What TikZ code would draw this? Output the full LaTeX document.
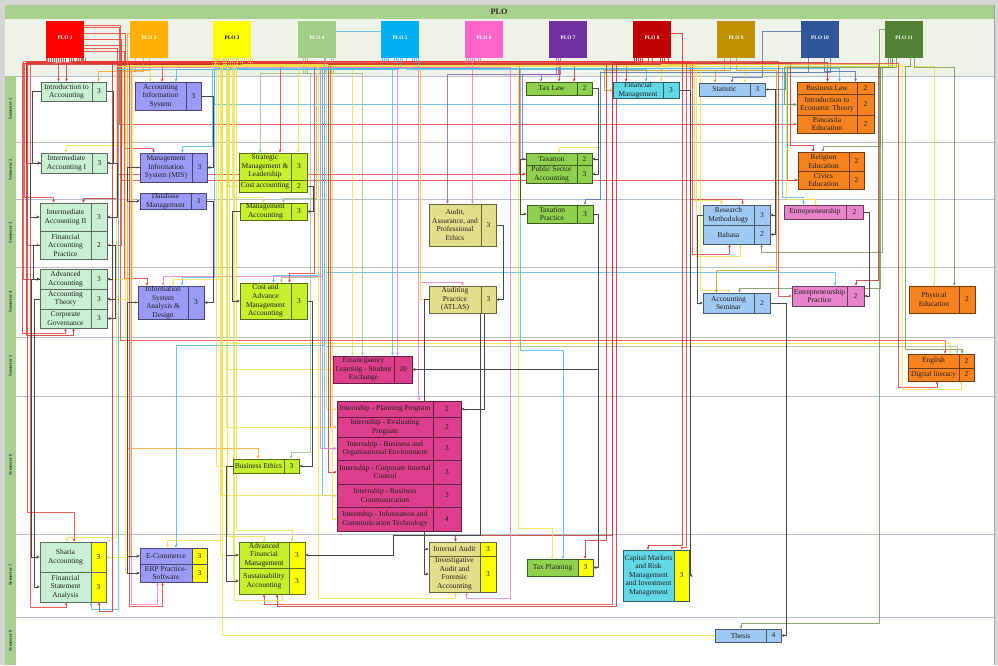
\documentclass[tikz,border=0pt]{standalone}
\usepackage{fontspec}
\setmainfont{Liberation Serif}
\usetikzlibrary{arrows.meta,calc,fit}
\pgfdeclarelayer{back}
\pgfdeclarelayer{mid}
\pgfsetlayers{back,mid,main}

\definecolor{hdr}{HTML}{A9D18E}
\definecolor{zone}{HTML}{EEF2E8}
\definecolor{frame}{HTML}{D6D6D6}
\definecolor{lane}{HTML}{B2C0CE}
\definecolor{q1}{HTML}{FF0000}
\definecolor{q2}{HTML}{FFB000}
\definecolor{q3}{HTML}{FFFF00}
\definecolor{q4}{HTML}{A3CC88}
\definecolor{q5}{HTML}{00B0F0}
\definecolor{q6}{HTML}{FF66CC}
\definecolor{q7}{HTML}{7030A0}
\definecolor{q8}{HTML}{C00000}
\definecolor{q9}{HTML}{BF9000}
\definecolor{q10}{HTML}{2F5597}
\definecolor{q11}{HTML}{548235}
\definecolor{ln1}{HTML}{E53935}
\definecolor{ln2}{HTML}{F5A623}
\definecolor{ln3}{HTML}{EEE04A}
\definecolor{ln4}{HTML}{9CC27E}
\definecolor{ln5}{HTML}{4DB8E8}
\definecolor{ln6}{HTML}{F27BC9}
\definecolor{ln7}{HTML}{8E5BB8}
\definecolor{ln8}{HTML}{C62828}
\definecolor{ln9}{HTML}{C29A2E}
\definecolor{ln10}{HTML}{4A6FA8}
\definecolor{ln11}{HTML}{6E9250}
\definecolor{cmint}{HTML}{C9F0D3}
\definecolor{cperi}{HTML}{9B9BF7}
\definecolor{clime}{HTML}{C4F02E}
\definecolor{ckhaki}{HTML}{E2DF8A}
\definecolor{cgreen}{HTML}{8FD14F}
\definecolor{ccyan}{HTML}{62D8E6}
\definecolor{cblue}{HTML}{9FC8F2}
\definecolor{corange}{HTML}{F68220}
\definecolor{cpink}{HTML}{E884CC}
\definecolor{cmag}{HTML}{DD3F8C}
\definecolor{cyel}{HTML}{FFFF00}

\tikzset{
  ctext/.style={font=\fontsize{5.6}{6.4}\selectfont, align=center, inner sep=0pt, text=black!88},
  lk/.style={line width=0.5pt, opacity=0.8, -{Stealth[length=2.4pt,width=2.2pt]}},
  gk/.style={line width=0.5pt, draw=black!72, -{Stealth[length=2.4pt,width=2.2pt]}},
  k1/.style={draw=ln1}, k2/.style={draw=ln2}, k3/.style={draw=ln3}, k4/.style={draw=ln4},
  k5/.style={draw=ln5}, k6/.style={draw=ln6}, k7/.style={draw=ln7}, k8/.style={draw=ln8},
  k9/.style={draw=ln9}, k10/.style={draw=ln10}, k11/.style={draw=ln11},
  kmint/.code={\def\mcol{cmint}\def\ccol{cmint}},
  kmintY/.code={\def\mcol{cmint}\def\ccol{cyel}},
  kperi/.code={\def\mcol{cperi}\def\ccol{cperi}},
  kperiY/.code={\def\mcol{cperi}\def\ccol{cyel}},
  klime/.code={\def\mcol{clime}\def\ccol{clime}},
  klimeY/.code={\def\mcol{clime}\def\ccol{cyel}},
  kkhaki/.code={\def\mcol{ckhaki}\def\ccol{ckhaki}},
  kkhakiY/.code={\def\mcol{ckhaki}\def\ccol{cyel}},
  kgreen/.code={\def\mcol{cgreen}\def\ccol{cgreen}},
  kgreenY/.code={\def\mcol{cgreen}\def\ccol{cyel}},
  kcyan/.code={\def\mcol{ccyan}\def\ccol{ccyan}},
  kcyanY/.code={\def\mcol{ccyan}\def\ccol{cyel}},
  kblue/.code={\def\mcol{cblue}\def\ccol{cblue}},
  korange/.code={\def\mcol{corange}\def\ccol{corange}},
  kpink/.code={\def\mcol{cpink}\def\ccol{cpink}},
  kmag/.code={\def\mcol{cmag}\def\ccol{cmag}},
}

% course: name, x1, y1, xdiv, x2, y2, style, credit, text
\newcommand{\crs}[9]{%
  \tikzset{#7}%
  \node[fit={(#2,#3)(#5,#6)}, inner sep=0pt, fill=\mcol] (#1) {};
  \fill[\ccol] (#4,#3) rectangle (#5,#6);
  \draw[\mcol!45!black, line width=0.45pt] (#2,#3) rectangle (#5,#6) (#4,#3) -- (#4,#6);
  \node[ctext] at ($(#2,#3)!0.5!(#4,#6)$) {#9};
  \node[ctext] at ($(#4,#3)!0.5!(#5,#6)$) {#8};
}
% PLO links from the bottom of a PLO box
\newcommand{\LkN}[6]{\draw[lk,#1] ($(#3.south)+(#2,0)$) -- ++(0,#4) -| ($(#5.north)+(#6,0)$);}
\newcommand{\LkT}[7]{\draw[lk,#1] ($(#3.south)+(#2,0)$) -- ++(0,#4) -| (#5) -| ($(#6.north)+(#7,0)$);}
\newcommand{\LkB}[7]{\draw[lk,#1] ($(#3.south)+(#2,0)$) -- ++(0,#4) -| (#5) -| ($(#6.south)+(#7,0)$);}
\newcommand{\LkW}[6]{\draw[lk,#1] ($(#3.south)+(#2,0)$) -- ++(0,#4) -| ($(#6.west)+(-#5,0)$) -- (#6.west);}
\newcommand{\LkE}[6]{\draw[lk,#1] ($(#3.south)+(#2,0)$) -- ++(0,#4) -| ($(#6.east)+(#5,0)$) -- (#6.east);}
% PLO links from a side of a PLO box
\newcommand{\LkSN}[6]{\draw[lk,#1] ($(#3)+(0,#2)$) -| (#4) -| ($(#5.north)+(#6,0)$);}
\newcommand{\LkSW}[5]{\draw[lk,#1] ($(#3)+(0,#2)$) -| ($(#5.west)+(-#4,0)$) -- (#5.west);}
\newcommand{\LkSE}[5]{\draw[lk,#1] ($(#3)+(0,#2)$) -| ($(#5.east)+(#4,0)$) -- (#5.east);}

\begin{document}
\begin{tikzpicture}[x=0.75pt,y=-0.75pt]
\useasboundingbox (0,0) rectangle (998,665);
\begin{pgfonlayer}{back}
  \fill[frame] (0,0) rectangle (998,665);
  \fill[white] (5,5) rectangle (994,665);
  \fill[hdr] (5,5) rectangle (994,19);
  \fill[zone] (5,19) rectangle (994,76);
  \fill[hdr] (5,76) rectangle (16,665);
  \foreach \yy in {76,142,199,267,337,396,534,617}
    \draw[lane, line width=0.6pt] (16,\yy) -- (994,\yy);
  \draw[black!35, line width=0.5pt] (994,5) -- (994,665);
  \foreach \yc/\s in {109/1,170/2,233/3,302/4,366/5,465/6,575/7,641/8}
    \node[rotate=90, font=\fontsize{3.4}{4}\selectfont\bfseries, text=black!80] at (10.5,\yc) {Semester \s};
\end{pgfonlayer}
\node[font=\fontsize{6.2}{7}\selectfont\bfseries, text=black!85] (plohdr) at (499,12) {PLO};

\foreach \k/\x/\c/\t in {1/46/q1/white,2/130/q2/white,3/213/q3/black,4/298/q4/white,5/381/q5/white,6/465/q6/white,7/549/q7/white,8/633/q8/white,9/717/q9/white,10/801/q10/white,11/885/q11/white}
  \node[fit={(\x,21)(\x+38,58)}, inner sep=0pt, fill=\c, text=\t, font=\fontsize{4}{4.5}\selectfont\bfseries] (p\k) {PLO \k};

% Semester 1
\crs{intro}{41}{82}{92}{106}{101}{kmint}{3}{Introduction to\\Accounting}
\crs{ais}{135}{82}{186}{201}{110}{kperi}{3}{Accounting\\Information\\System}
\crs{taxlaw}{526}{82}{577}{592}{95}{kgreen}{2}{Tax Law}
\crs{finmgmt}{613}{82}{663}{679}{98}{kcyan}{3}{Financial\\Management}
\crs{statistic}{699}{83}{750}{765}{96}{kblue}{3}{Statistic}
\crs{bizlaw}{797}{82}{857}{874}{94}{korange}{2}{Business Law}
\crs{econ}{797}{94}{857}{874}{115}{korange}{2}{Introduction to\\Economic Theory}
\crs{pancasila}{797}{115}{857}{874}{133}{korange}{2}{Pancasila\\Education}
% Semester 2
\crs{ia1}{41}{153}{92}{107}{173}{kmint}{3}{Intermediate\\Accounting I}
\crs{mis}{140}{153}{192}{207}{182}{kperi}{3}{Management\\Information\\System (MIS)}
\crs{strat}{239}{153}{291}{307}{180}{klime}{3}{Strategic\\Management \&\\Leadership}
\crs{costacc}{239}{180}{291}{307}{192}{klime}{2}{Cost accounting}
\crs{taxation}{526}{153}{577}{592}{165}{kgreen}{2}{Taxation}
\crs{psa}{526}{165}{577}{592}{183}{kgreen}{3}{Public Sector\\Accounting}
\crs{religion}{798}{152}{849}{864}{171}{korange}{2}{Religion\\Education}
\crs{civics}{798}{171}{849}{864}{189}{korange}{2}{Civics\\Education}
% Semester 3
\crs{dbm}{140}{193}{191}{206}{209}{kperi}{3}{Database\\Management}
\crs{ia2}{40}{203}{91}{107}{231}{kmint}{3}{Intermediate\\Accounting II}
\crs{fap}{40}{231}{91}{107}{259}{kmint}{2}{Financial\\Accounting\\Practice}
\crs{mgmtacc}{240}{203}{291}{307}{220}{klime}{3}{Management\\Accounting}
\crs{audit}{429}{204}{481}{496}{246}{kkhaki}{3}{Audit,\\Assurance, and\\Professional\\Ethics}
\crs{taxprac}{527}{205}{577}{593}{223}{kgreen}{3}{Taxation\\Practice}
\crs{rm}{703}{205}{754}{770}{225}{kblue}{3}{Research\\Methodology}
\crs{bahasa}{703}{225}{754}{770}{244}{kblue}{2}{Bahasa}
\crs{entre}{784}{205}{846}{863}{219}{kpink}{2}{Entrepreneurship}
% Semester 4
\crs{adv}{40}{269}{91}{107}{289}{kmint}{3}{Advanced\\Accounting}
\crs{theory}{40}{289}{91}{107}{309}{kmint}{3}{Accounting\\Theory}
\crs{cg}{40}{309}{91}{107}{328}{kmint}{3}{Corporate\\Governance}
\crs{isad}{138}{286}{188}{204}{319}{kperi}{3}{Information\\System\\Analysis \&\\Design}
\crs{cama}{240}{283}{291}{307}{319}{klime}{3}{Cost and\\Advance\\Management\\Accounting}
\crs{atlas}{429}{286}{481}{496}{313}{kkhaki}{3}{Auditing\\Practice\\(ATLAS)}
\crs{accsem}{703}{293}{754}{770}{313}{kblue}{2}{Accounting\\Seminar}
\crs{entprac}{792}{286}{847}{864}{306}{kpink}{2}{Entrepreneurship\\Practice}
\crs{physed}{909}{286}{959}{975}{313}{korange}{2}{Physical\\Education}
% Semester 5
\crs{emancip}{333}{356}{394}{412}{383}{kmag}{20}{Emancipatory\\Learning - Student\\Exchange}
\crs{english}{908}{354}{959}{974}{368}{korange}{2}{English}
\crs{digital}{908}{368}{959}{974}{381}{korange}{2}{Digital literacy}
% Semester 6
\crs{intern1}{337}{401}{433}{461}{417}{kmag}{2}{Internship - Planning Program}
\crs{intern2}{337}{417}{433}{461}{437}{kmag}{2}{Internship - Evaluating\\Program}
\crs{intern3}{337}{437}{433}{461}{460}{kmag}{3}{Internship - Business and\\Organisational Environment}
\crs{intern4}{337}{460}{433}{461}{484}{kmag}{3}{Internship - Corporate Internal\\Control}
\crs{intern5}{337}{484}{433}{461}{507}{kmag}{3}{Internship - Business\\Communication}
\crs{intern6}{337}{507}{433}{461}{531}{kmag}{4}{Internship - Information and\\Communication Technology}
\crs{bizeth}{233}{459}{284}{299}{473}{klime}{3}{Business Ethics}
% Semester 7
\crs{sharia}{40}{542}{91}{106}{572}{kmintY}{3}{Sharia\\Accounting}
\crs{fsa}{40}{572}{91}{106}{602}{kmintY}{3}{Financial\\Statement\\Analysis}
\crs{ecom}{140}{548}{192}{207}{564}{kperiY}{3}{E-Commerce}
\crs{erp}{140}{564}{192}{207}{582}{kperiY}{3}{ERP Practice-\\Software}
\crs{afm}{239}{542}{289}{305}{568}{klimeY}{3}{Advanced\\Financial\\Management}
\crs{sust}{239}{568}{289}{305}{594}{klimeY}{3}{Sustainability\\Accounting}
\crs{intaudit}{429}{542}{480}{496}{556}{kkhakiY}{3}{Internal Audit}
\crs{invest}{429}{556}{480}{496}{592}{kkhakiY}{3}{Investigative\\Audit and\\Forensic\\Accounting}
\crs{taxplan}{527}{559}{578}{593}{576}{kgreenY}{3}{Tax Planning}
\crs{capmkt}{623}{550}{674}{689}{601}{kcyanY}{3}{Capital Markets\\and Risk\\Management\\and Investment\\Management}
% Semester 8
\crs{thesis}{715}{629}{766}{781}{642}{kblue}{4}{Thesis}

\begin{pgfonlayer}{mid}
% ---- PLO links
\LkN{k1}{-8}{p1}{4}{intro}{-15}
\LkN{k8}{-16}{p8}{5}{intro}{-7}
\LkN{k2}{-14}{p2}{13}{intro}{25}
\LkN{k3}{-12}{p3}{7}{ais}{-18}
\LkN{k1}{4}{p1}{3}{ais}{-6}
\LkN{k5}{-16}{p5}{11}{ais}{8}
\LkN{k7}{-8}{p7}{16}{taxlaw}{-18}
\LkN{k1}{8}{p1}{3}{taxlaw}{0}
\LkN{k8}{-4}{p8}{5}{taxlaw}{15}
\LkN{k8}{0}{p8}{6}{finmgmt}{-20}
\LkN{k5}{6}{p5}{11}{finmgmt}{0}
\LkN{k3}{8}{p3}{8}{finmgmt}{15}
\LkW{k9}{-12}{p9}{12}{8}{finmgmt}
\LkN{k9}{-6}{p9}{12}{statistic}{-17}
\LkSN{k10}{-8}{p10.west}{762,77}{statistic}{0}
\LkN{k3}{12}{p3}{6}{statistic}{13}
\LkE{k10}{10}{p10}{14}{20}{statistic}
\LkN{k8}{10}{p8}{4}{bizlaw}{-8}
\LkN{k5}{12}{p5}{10}{bizlaw}{4}
\LkN{k10}{4}{p10}{13}{bizlaw}{20}
\LkW{k5}{2}{p5}{10}{582}{econ}
\LkW{k11}{-12}{p11}{9}{12}{econ}
\LkSW{k1}{-12}{p1.east}{677}{pancasila}
\LkT{k3}{-14}{p3}{7}{122,145}{ia1}{-8}
\LkW{k1}{-12}{p1}{4}{14}{ia1}
\LkT{k5}{-12}{p5}{11}{212,146}{mis}{9}
\LkSN{k1}{-6}{p1.east}{125,148}{mis}{-20}
\LkW{k2}{0}{p2}{12}{10}{mis}
\LkN{k4}{-10}{p4}{15}{strat}{-13}
\LkN{k1}{14}{p1}{4}{strat}{7}
\LkN{k3}{16}{p3}{7}{strat}{25}
\LkW{k3}{-16}{p3}{7}{10}{costacc}
\LkT{k3}{18}{p3}{6}{600,147}{taxation}{0}
\LkW{k1}{16}{p1}{3}{6}{psa}
\LkSW{k1}{9}{p1.east}{408}{psa}
\LkW{k7}{-10}{p7}{16}{3}{taxation}
\LkT{k8}{12}{p8}{5}{790,145}{religion}{-18}
\LkT{k11}{-14}{p11}{9}{880,146}{religion}{-8}
\LkW{k11}{-16}{p11}{8}{10}{civics}
\LkSW{k1}{0}{p1.east}{676}{civics}
\LkT{k1}{-14}{p1}{5}{24,197}{ia2}{-20}
\LkT{k8}{-14}{p8}{6}{118,198}{ia2}{10}
\LkW{k1}{-16}{p1}{4}{12}{fap}
\LkSE{k1}{6}{p1.east}{14}{fap}
\LkT{k3}{6}{p3}{6}{232,197}{mgmtacc}{-10}
\LkT{k4}{-12}{p4}{15}{316,198}{mgmtacc}{10}
\LkN{k6}{-10}{p6}{9}{audit}{10}
\LkN{k7}{-12}{p7}{16}{audit}{-15}
\LkT{k10}{-12}{p10}{14}{600,199}{taxprac}{25}
\LkT{k1}{18}{p1}{3}{690,199}{rm}{6}
\LkT{k3}{14}{p3}{7}{694,200}{rm}{-15}
\LkB{k1}{-4}{p1}{4}{692,254}{bahasa}{-7}
\LkB{k3}{-10}{p3}{8}{696,256}{bahasa}{4}
\LkB{k11}{-8}{p11}{9}{882,252}{bahasa}{25}
\LkT{k5}{14}{p5}{10}{782,197}{entre}{-20}
\LkT{k3}{-4}{p3}{6}{786,199}{entre}{-8}
\LkW{k1}{-18}{p1}{3}{16}{adv}
\LkB{k1}{-2}{p1}{5}{22,333}{cg}{-8}
\LkB{k8}{-16}{p8}{6}{26,335}{cg}{0}
\LkSN{k1}{12}{p1.east}{124,278}{isad}{-24}
\LkT{k6}{-14}{p6}{9}{322,276}{isad}{-8}
\LkT{k3}{-8}{p3}{7}{218,279}{isad}{2}
\LkT{k5}{-14}{p5}{11}{214,277}{isad}{11}
\LkW{k2}{-6}{p2}{13}{8}{isad}
\LkT{k5}{-4}{p5}{11}{320,275}{cama}{0}
\LkT{k1}{6}{p1}{4}{314,273}{cama}{16}
\LkT{k4}{8}{p4}{15}{318,277}{cama}{8}
\LkT{k6}{-4}{p6}{9}{420,282}{atlas}{0}
\LkW{k3}{20}{p3}{6}{8}{atlas}
\LkT{k3}{16}{p3}{8}{700,290}{accsem}{-8}
\LkT{k11}{-12}{p11}{9}{880,288}{accsem}{3}
\LkT{k9}{0}{p9}{12}{776,270}{accsem}{-20}
\LkT{k5}{16}{p5}{10}{326,272}{entprac}{7}
\LkT{k8}{16}{p8}{6}{878,280}{entprac}{28}
\LkW{k1}{20}{p1}{3}{13}{entprac}
\LkN{k3}{18}{p3}{8}{physed}{-8}
\LkN{k11}{10}{p11}{9}{physed}{12}
\LkN{k3}{-18}{p3}{7}{emancip}{-20}
\LkN{k5}{-6}{p5}{11}{emancip}{20}
\LkN{k4}{14}{p4}{15}{emancip}{-10}
\LkN{k6}{-16}{p6}{9}{emancip}{25}
\LkW{k3}{0}{p3}{7}{105}{emancip}
\LkSN{k1}{-14}{p1.east}{120,340}{english}{4}
\LkT{k3}{-6}{p3}{7}{229,343}{english}{9}
\LkT{k4}{16}{p4}{15}{326,346}{english}{16}
\LkT{k11}{6}{p11}{8}{905,349}{english}{21}
\LkB{k1}{-6}{p1}{5}{898,387}{digital}{-4}
\LkB{k3}{10}{p3}{6}{902,389}{digital}{20}
\LkW{k3}{-6}{p3}{8}{10}{intern1}
\LkW{k1}{-4}{p1}{5}{6}{intern2}
\LkW{k3}{4}{p3}{9}{110}{intern2}
\LkW{k5}{-2}{p5}{11}{12}{intern3}
\LkW{k8}{-12}{p8}{6}{8}{intern4}
\LkW{k5}{0}{p5}{10}{14}{intern5}
\LkW{k3}{8}{p3}{8}{115}{intern5}
\LkW{k3}{-2}{p3}{7}{4}{intern6}
\LkW{k6}{-12}{p6}{9}{16}{intern3}
\LkT{k6}{-6}{p6}{9}{418,396}{intern1}{20}
\LkSN{k2}{-6}{p2.east}{127,448}{bizeth}{-8}
\LkT{k4}{-14}{p4}{15}{310,452}{bizeth}{25}
\LkW{k3}{-10}{p3}{9}{16}{bizeth}
\LkT{k1}{-19}{p1}{3}{27,512}{sharia}{1}
\LkT{k3}{-20}{p3}{8}{116,537}{sharia}{-6}
\LkE{k3}{-15}{p3}{9}{24}{sharia}
\LkE{k3}{-18}{p3}{9}{22}{theory}
\LkE{k3}{-16}{p3}{8}{25}{adv}
\LkB{k1}{-10}{p1}{4}{30,607}{fsa}{-7}
\LkB{k5}{-18}{p5}{11}{118,609}{fsa}{18}
\LkB{k8}{-18}{p8}{5}{112,611}{fsa}{26}
\LkSN{k5}{-8}{p5.west}{324,345}{ecom}{2.5}
\LkT{k3}{-8}{p3}{8}{222,540}{ecom}{-6}
\LkW{k3}{-13}{p3}{9}{8}{ecom}
\LkW{k3}{-9}{p3}{8}{14}{erp}
\LkB{k6}{-18}{p6}{9}{131,604}{erp}{-16}
\LkB{k1}{0}{p1}{5}{129,606}{erp}{-11}
\LkT{k3}{-4}{p3}{7}{227,536}{afm}{-8}
\LkT{k3}{2}{p3}{9}{236,530}{afm}{20}
\LkW{k3}{-7}{p3}{9}{18}{afm}
\LkB{k1}{12}{p1}{3}{612,604}{sust}{-8}
\LkB{k8}{8}{p8}{6}{616,606}{sust}{5}
\LkB{k3}{-2}{p3}{8}{234,600}{sust}{10}
\LkW{k3}{5}{p3}{8}{5}{sust}
\LkT{k8}{-18}{p8}{4}{612,535}{intaudit}{-7}
\LkB{k3}{10}{p3}{6}{318,598}{invest}{-7}
\LkB{k6}{-12}{p6}{9}{510,598}{invest}{4}
\LkT{k5}{18}{p5}{10}{520,350}{taxplan}{3}
\LkT{k8}{-10}{p8}{5}{606,540}{taxplan}{25}
\LkT{k3}{18}{p3}{7}{518,528}{taxplan}{-8}
\LkSN{k8}{-6}{p8.east}{682,545}{capmkt}{-8}
\LkT{k1}{17}{p1}{5}{686,547}{capmkt}{26}
\LkW{k3}{-17}{p3}{8}{492}{thesis}
\LkSN{k11}{-10}{p11.west}{879,623}{thesis}{-7}
% ---- prerequisite links
\draw[gk] (intro.east) -- ++(7,0) |- (ia1.east);
\draw[gk] (ia1.east) -- ++(10,0) |- (ia2.east);
\draw[gk] (ia2.east) -- ++(5,0) |- (adv.east);
\draw[gk] (fap.east) -- ++(8,0) |- (theory.east);
\draw[gk] (fap.east) -- ++(8,0) |- (cg.east);
\draw[gk] (intro.west) -- ++(-8,0) |- (ia1.west);
\draw[gk] (ia1.west) -- ++(-10,0) |- (ia2.west);
\draw[gk] (fap.west) -- ++(-6,0) |- (adv.west);
\draw[gk] (adv.west) -- ++(-8,0) |- (sharia.west);
\draw[gk] (theory.west) -- ++(-5,0) |- (fsa.west);
\draw[gk] (ais.east) -- ++(12,0) |- (mis.east);
\draw[gk] (mis.west) -- ++(-12,0) |- (dbm.west);
\draw[gk] (dbm.east) -- ++(7,0) |- (isad.east);
\draw[gk] (isad.west) -- ++(-10,0) |- (ecom.west);
\draw[gk] (isad.west) -- ++(-10,0) |- (erp.west);
\draw[gk] (costacc.east) -- ++(6,0) |- (mgmtacc.east);
\draw[gk] (mgmtacc.west) -- ++(-7,0) |- (cama.west);
\draw[gk] (cama.east) -- ++(5,0) |- (bizeth.east);
\draw[gk] (bizeth.west) -- ++(-6,0) |- (afm.west);
\draw[gk] (bizeth.west) -- ++(-6,0) |- (sust.west);
\draw[gk] (audit.east) -- ++(7,0) |- (atlas.east);
\draw[gk] (atlas.west) -- ++(-4,0) |- (intaudit.west);
\draw[gk] (atlas.west) -- ++(-4,0) |- (invest.west);
\draw[gk] ($(atlas.south)+(22,0)$) |- (intern1.east);
\draw[gk] ($(atlas.south)+(18,0)$) |- (393,535) |- (afm.east);
\draw[gk] (taxlaw.east) -- ++(6,0) |- (taxation.east);
\draw[gk] (taxlaw.east) -- ++(6,0) |- (psa.east);
\draw[gk] (taxation.west) -- ++(-5,0) |- (taxprac.west);
\draw[gk] (taxprac.east) -- ++(5,0) |- (taxplan.east);
\draw[gk] (taxprac.east) -- ++(5,0) |- (emancip.east);
\draw[gk] (finmgmt.east) -- ++(11,0) |- (capmkt.east);
\draw[gk] (statistic.east) -- ++(10,0) |- (rm.east);
\draw[gk] (statistic.east) -- ++(10,0) |- (bahasa.east);
\draw[gk] (rm.west) -- ++(-5,0) |- (accsem.west);
\draw[gk] (accsem.east) -- ++(16,0) |- (thesis.east);
\draw[gk] (entre.east) -- ++(6,0) |- (entprac.east);
\end{pgfonlayer}
\end{tikzpicture}
\end{document}
